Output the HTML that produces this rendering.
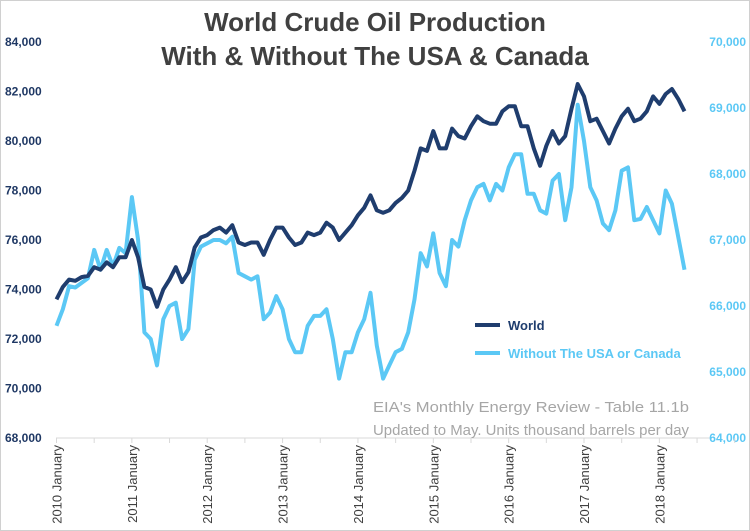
<!DOCTYPE html>
<html><head><meta charset="utf-8"><style>
body{margin:0;background:#fff}
svg{display:block;font-family:"Liberation Sans",Arial,sans-serif}
</style></head><body>
<svg id="chart" width="750" height="531" viewBox="0 0 750 531">
<rect x="0.5" y="0.5" width="749" height="530" fill="#fff" stroke="#d0d0d0"/>
<text x="375" y="31" text-anchor="middle" font-size="26" font-weight="bold" fill="#404040">World Crude Oil Production</text>
<text x="375" y="65" text-anchor="middle" font-size="26" font-weight="bold" fill="#404040">With &amp; Without The USA &amp; Canada</text>
<g id="axes"></g>
<g id="series"></g>
<line x1="475" y1="325" x2="500" y2="325" stroke="#1f3d6e" stroke-width="4"/>
<text x="508" y="330" font-size="13" font-weight="bold" fill="#1f3d6e">World</text>
<line x1="475" y1="353" x2="500" y2="353" stroke="#5bc8f5" stroke-width="4"/>
<text x="508" y="358" font-size="13" font-weight="bold" fill="#5bc8f5">Without The USA or Canada</text>
<text x="689" y="412" text-anchor="end" font-size="15" fill="#a6a6a6" textLength="316" lengthAdjust="spacingAndGlyphs">EIA's Monthly Energy Review - Table 11.1b</text>
<text x="689" y="435" text-anchor="end" font-size="15" fill="#a6a6a6" textLength="316" lengthAdjust="spacingAndGlyphs">Updated to May. Units thousand barrels per day</text>
</svg>
<script>
const world = [73600,74100,74400,74350,74500,74550,74900,74800,75100,74900,75300,75300,
76000,75300,74100,74000,73300,74000,74400,74900,74300,74700,75700,76100,
76200,76400,76500,76300,76600,75900,75800,75900,75900,75400,76000,76500,
76500,76100,75800,75900,76300,76200,76300,76700,76500,76000,76300,76600,
77000,77300,77800,77200,77100,77200,77500,77700,78000,78800,79700,79600,
80400,79700,79700,80500,80200,80100,80600,81000,80800,80700,80700,81200,
81400,81400,80600,80600,79700,79000,79800,80400,79900,80200,81300,82300,
81800,80800,80900,80400,79900,80500,81000,81300,80800,80900,81200,81800,
81500,81900,82100,81700,81200];
const without = [65700,65950,66300,66280,66350,66420,66850,66550,66850,66600,66880,66800,
67650,67000,65600,65500,65100,65800,66000,66050,65500,65650,66700,66900,
66950,67000,67000,66950,67050,66500,66450,66400,66450,65800,65900,66150,
65950,65500,65300,65300,65700,65850,65850,65950,65500,64900,65300,65300,
65600,65800,66200,65400,64900,65100,65300,65350,65600,66100,66800,66600,
67100,66500,66300,67000,66900,67300,67600,67800,67850,67600,67850,67750,
68100,68300,68300,67700,67700,67450,67400,67900,68000,67300,67800,69050,
68500,67800,67600,67250,67150,67450,68050,68100,67300,67320,67500,67300,
67100,67750,67550,67050,66550];
const leftTicks = [68000,70000,72000,74000,76000,78000,80000,82000,84000];
const rightTicks = [64000,65000,66000,67000,68000,69000,70000];
const years = ["2010","2011","2012","2013","2014","2015","2016","2017","2018"];

const NS="http://www.w3.org/2000/svg";
const x = i => 56.5 + i*6.28;
const yL = v => 438 - (v-68000)/16000*396;
const yR = v => 438 - (v-64000)/6000*396;
const fmt = v => v.toLocaleString("en-US");
const axes=document.getElementById("axes"), series=document.getElementById("series");
function mk(tag, attrs, parent, txt){const e=document.createElementNS(NS,tag);for(const k in attrs)e.setAttribute(k,attrs[k]);if(txt!==undefined)e.textContent=txt;parent.appendChild(e);return e;}

const base=mk("line",{x1:56,y1:438,x2:712,y2:438,stroke:"#d9d9d9","stroke-width":1},axes);


leftTicks.forEach(v=>{
  const t=mk("text",{x:5,y:yL(v)+4,"font-size":12,"font-weight":"bold",fill:"#1f3864"},axes,fmt(v));
  
  
});
rightTicks.forEach(v=>{
  const t=mk("text",{x:746,y:yR(v)+4,"text-anchor":"end","font-size":12,"font-weight":"bold",fill:"#5bc8f5"},axes,fmt(v));
  
  
});
for(let m=0;m<=108;m+=6){
  const tk=mk("line",{x1:x(m),y1:438,x2:x(m),y2:443,stroke:"#d9d9d9"},axes);
  
  
}
years.forEach((yr,k)=>{
  const xx=x(k*12)+5;
  const t=mk("text",{x:0,y:0,"text-anchor":"end","font-size":13,fill:"#404040",transform:`translate(${xx},445) rotate(-90)`},axes,yr+" January");
  
  
});
const pw=without.map((v,i)=>x(i).toFixed(1)+","+yR(v).toFixed(1)).join(" ");
const l2=mk("polyline",{points:pw,fill:"none",stroke:"#5bc8f5","stroke-width":4,"stroke-linejoin":"round"},series);


const pwl=world.map((v,i)=>x(i).toFixed(1)+","+yL(v).toFixed(1)).join(" ");
const l1=mk("polyline",{points:pwl,fill:"none",stroke:"#1f3d6e","stroke-width":4,"stroke-linejoin":"round"},series);


</script>
</body></html>
